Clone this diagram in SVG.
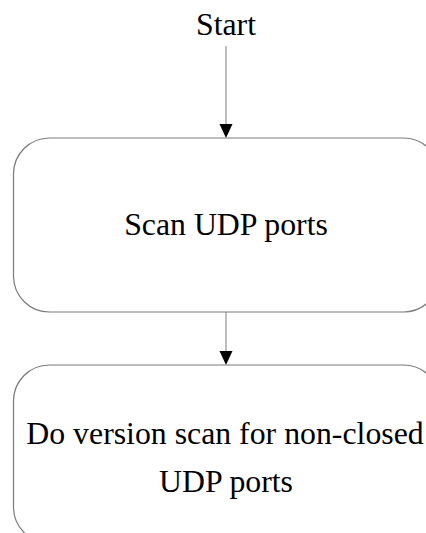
<svg xmlns="http://www.w3.org/2000/svg" width="426" height="533" viewBox="0 0 426 533">
  <style>
    text { font-family: 'Liberation Serif', 'Times New Roman', 'DejaVu Serif', serif; font-size: 31.8px; fill: #000; text-anchor: middle; }
    .box { fill: #fff; stroke: #7a7a7a; stroke-width: 1.2; }
    .edge { stroke: #9a9a9a; stroke-width: 1.3; }
    .head { fill: #000; }
  </style>
  <rect width="426" height="533" fill="#fff"/>

  <g id="connectors">
    <line class="edge" x1="226" y1="46" x2="226" y2="124"/>
    <path class="head" d="M219.5,124 L232.5,124 L226,138 Z"/>
    <line class="edge" x1="226" y1="312" x2="226" y2="351"/>
    <path class="head" d="M219.5,351 L232.5,351 L226,365 Z"/>
  </g>

  <g id="start">
    <text x="226" y="35">Start</text>
  </g>

  <g id="scan-udp">
    <rect class="box" x="13.5" y="138" width="426" height="174" rx="36" ry="36"/>
    <text x="226" y="235">Scan UDP ports</text>
  </g>

  <g id="version-scan">
    <rect class="box" x="13.5" y="365" width="426" height="178" rx="36" ry="36"/>
    <text x="225" y="444">Do version scan for non-closed</text>
    <text x="226" y="492">UDP ports</text>
  </g>
</svg>
